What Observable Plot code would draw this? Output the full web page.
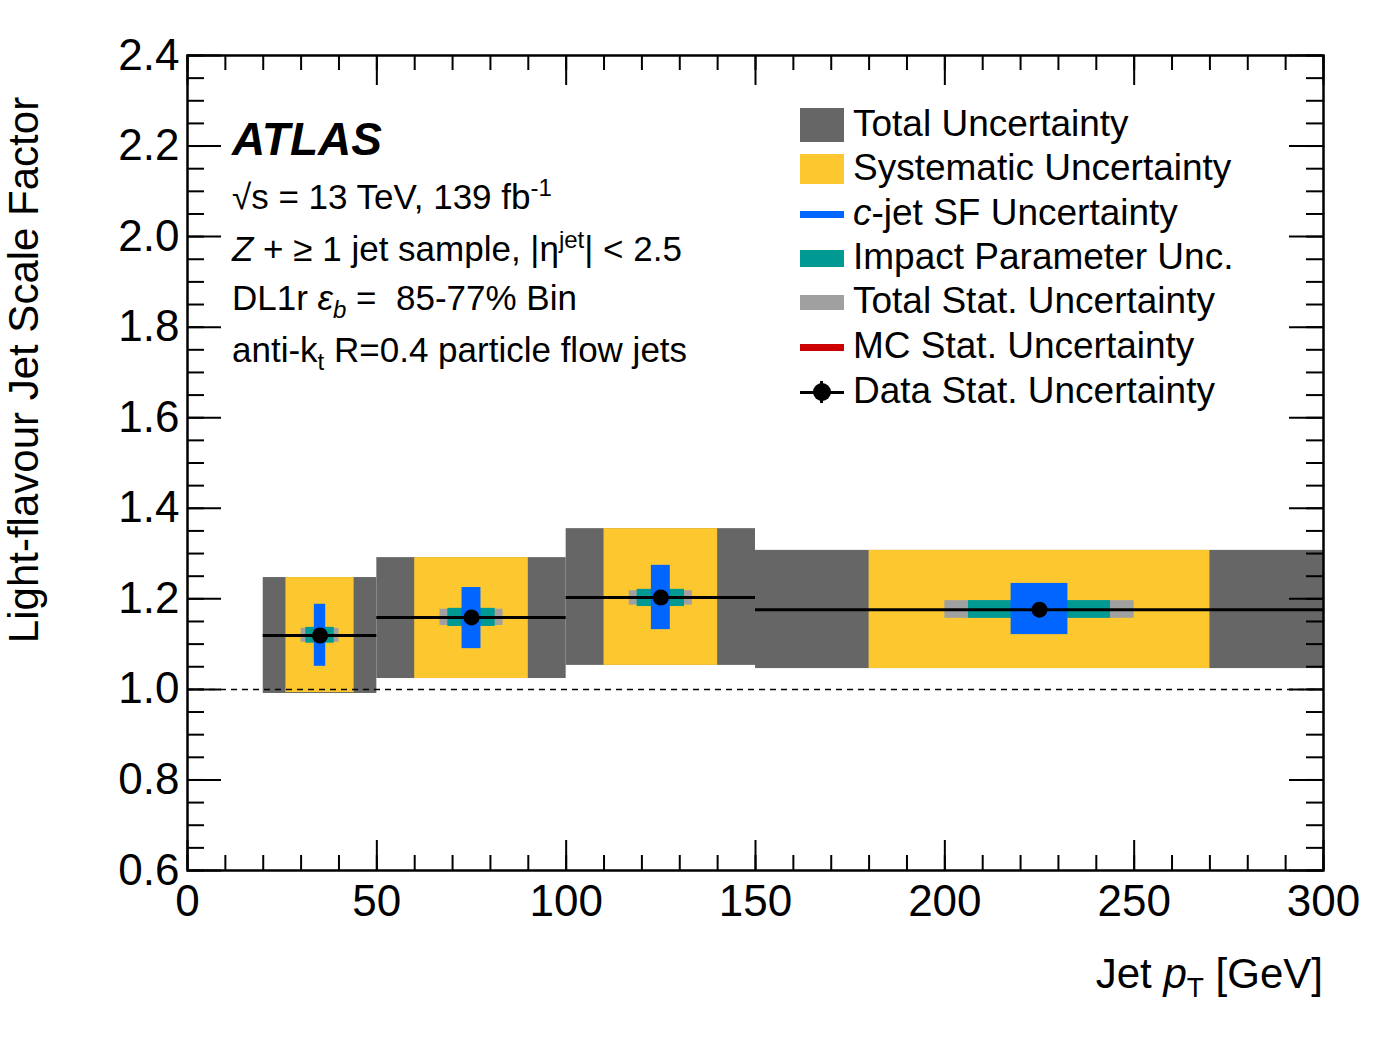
<!DOCTYPE html>
<html><head><meta charset="utf-8">
<script src="https://cdn.jsdelivr.net/npm/d3@7"></script>
<script src="https://cdn.jsdelivr.net/npm/@observablehq/plot@0.6"></script>
<style>
body{margin:0;background:#fff;font-family:"Liberation Sans",Arial,sans-serif}
#wrap{position:relative;width:1400px;height:1040px}
.t{position:absolute;white-space:nowrap;color:#000}
.lg{position:absolute;left:800px;font-size:37px;white-space:nowrap}
.sw{position:absolute;left:0;width:44px}
.lg span.l{position:absolute;left:53px;top:-22px}
</style></head><body>
<div id="wrap"></div>
<script>
// bins in GeV
const binLo = [20, 50, 100, 150];
const binHi = [50, 100, 150, 300];
const sf    = [1.119, 1.159, 1.203, 1.176];
// band edges (absolute)
const totLo = [0.991, 1.024, 1.053, 1.046];
const totHi = [1.247, 1.291, 1.355, 1.307];
const sysLo = [0.993, 1.024, 1.053, 1.046];
const sysHi = [1.247, 1.291, 1.355, 1.307];
const cjLo  = [1.051, 1.090, 1.132, 1.121];
const cjHi  = [1.188, 1.225, 1.274, 1.234];
const ipLo  = [1.102, 1.139, 1.183, 1.157];
const ipHi  = [1.137, 1.179, 1.221, 1.196];
const stLo  = [1.104, 1.141, 1.186, 1.157];
const stHi  = [1.135, 1.177, 1.218, 1.196];

const bins = binLo.map((lo, i) => ({lo, hi: binHi[i], c: (lo + binHi[i]) / 2, w: binHi[i] - lo, sf: sf[i],
  totLo: totLo[i], totHi: totHi[i], sysLo: sysLo[i], sysHi: sysHi[i], cjLo: cjLo[i], cjHi: cjHi[i],
  ipLo: ipLo[i], ipHi: ipHi[i], stLo: stLo[i], stHi: stHi[i]}));
const frac = f => ({x1: d => d.c - d.w * f / 2, x2: d => d.c + d.w * f / 2});

const xMajor = d3.range(0, 301, 50), xMinor = d3.range(0, 301, 10);
const yMajor = d3.range(0.6, 2.41, 0.2), yMinor = d3.range(0.6, 2.41, 0.05);
const xs = 300 / 1136, ys = 1.8 / 815; // data units per pixel

const plot = Plot.plot({
  width: 1400, height: 1040, marginLeft: 187, marginRight: 77, marginTop: 55, marginBottom: 170,
  style: {fontFamily: "Liberation Sans, Arial, sans-serif", fontSize: "44px", color: "#000"},
  x: {domain: [0, 300]}, y: {domain: [0.6, 2.4]},
  marks: [
    Plot.rectY(bins, {x1: "lo", x2: "hi", y1: "totLo", y2: "totHi", fill: "#666666"}),
    Plot.rectY(bins, {...frac(0.6), y1: "sysLo", y2: "sysHi", fill: "#fdc82f"}),
    Plot.rectY(bins, {...frac(1/3), y1: "stLo", y2: "stHi", fill: "#a0a0a0"}),
    Plot.rectY(bins, {...frac(0.25), y1: "ipLo", y2: "ipHi", fill: "#009a93"}),
    Plot.rectY(bins, {...frac(0.1), y1: "cjLo", y2: "cjHi", fill: "#0066ff"}),
    Plot.ruleY([1.0], {stroke: "#000", strokeWidth: 1.5, strokeDasharray: "6,5"}),
    Plot.ruleY(bins, {x1: "lo", x2: "hi", y: "sf", stroke: "#000", strokeWidth: 3}),
    Plot.dot(bins, {x: "c", y: "sf", r: 8, fill: "#000"}),
    // inward ticks
    Plot.ruleX(xMajor, {x: d => d, y1: 0.6, y2: 0.6 + 30 * ys, strokeWidth: 2}),
    Plot.ruleX(xMinor, {x: d => d, y1: 0.6, y2: 0.6 + 15 * ys, strokeWidth: 2}),
    Plot.ruleX(xMajor, {x: d => d, y1: 2.4, y2: 2.4 - 30 * ys, strokeWidth: 2}),
    Plot.ruleX(xMinor, {x: d => d, y1: 2.4, y2: 2.4 - 15 * ys, strokeWidth: 2}),
    Plot.ruleY(yMajor, {y: d => d, x1: 0, x2: 34 * xs, strokeWidth: 2}),
    Plot.ruleY(yMinor, {y: d => d, x1: 0, x2: 17 * xs, strokeWidth: 2}),
    Plot.ruleY(yMajor, {y: d => d, x1: 300, x2: 300 - 34 * xs, strokeWidth: 2}),
    Plot.ruleY(yMinor, {y: d => d, x1: 300, x2: 300 - 17 * xs, strokeWidth: 2}),
    Plot.frame({stroke: "#000", strokeWidth: 2.5}),
    Plot.axisX({ticks: xMajor, tickSize: 0, tickPadding: 14, tickFormat: d => d, label: null}),
    Plot.axisY({ticks: yMajor, tickSize: 0, tickPadding: 8, tickFormat: d3.format(".1f"), label: null})
  ]
});
const wrap = document.getElementById("wrap");
plot.style.position = "absolute"; plot.style.left = "0"; plot.style.top = "0";
wrap.appendChild(plot);

const add = (html, css, cls = "t") => { const d = document.createElement("div"); d.className = cls; d.innerHTML = html; d.style.cssText += css; wrap.appendChild(d); return d; };
add("Light-flavour Jet Scale Factor", "font-size:42px;left:25px;top:370px;transform:translate(-50%,-50%) rotate(-90deg);left:24px;");
add("Jet <i>p</i><sub style='font-size:28px'>T</sub> [GeV]", "font-size:42px;right:77px;top:950px;");
add("<b><i>ATLAS</i></b>", "font-size:46px;left:232px;top:112px;");
add("&radic;s = 13 TeV, 139 fb<sup style='font-size:24px'>-1</sup>", "font-size:35px;left:232px;top:174px;");
add("<i>Z</i> + &ge; 1 jet sample, |&eta;<sup style='font-size:24px'>jet</sup>| &lt; 2.5", "font-size:35px;left:232px;top:226px;");
add("DL1r <i>&epsilon;<sub style='font-size:24px'>b</sub></i> = &nbsp;85-77% Bin", "font-size:35px;left:232px;top:278px;");
add("anti-k<sub style='font-size:24px'>t</sub> R=0.4 particle flow jets", "font-size:35px;left:232px;top:330px;");

// legend
const legNames = ["Total Uncertainty", "Systematic Uncertainty", "<i>c</i>-jet SF Uncertainty", "Impact Parameter Unc.", "Total Stat. Uncertainty", "MC Stat. Uncertainty", "Data Stat. Uncertainty"];
const legCols = ["#666666", "#fdc82f", "#0066ff", "#009a93", "#a0a0a0", "#cc0000", null];
const legH = [34, 30, 7, 17, 15, 7, 0];
const legY = [125, 169, 214, 258, 302, 347, 392];
legNames.forEach((n, i) => {
  const d = add("", `top:${legY[i]}px;`, "lg");
  if (legCols[i]) d.innerHTML = `<div class="sw" style="top:${-legH[i]/2}px;height:${legH[i]}px;background:${legCols[i]}"></div>`;
  else d.innerHTML = `<div class="sw" style="top:-1.5px;height:3px;background:#000"></div><div class="sw" style="left:20px;width:3px;top:-11px;height:22px;background:#000"></div><div style="position:absolute;left:13px;top:-9px;width:18px;height:18px;border-radius:50%;background:#000"></div>`;
  d.innerHTML += `<span class="l">${n}</span>`;
});
</script></body></html>
